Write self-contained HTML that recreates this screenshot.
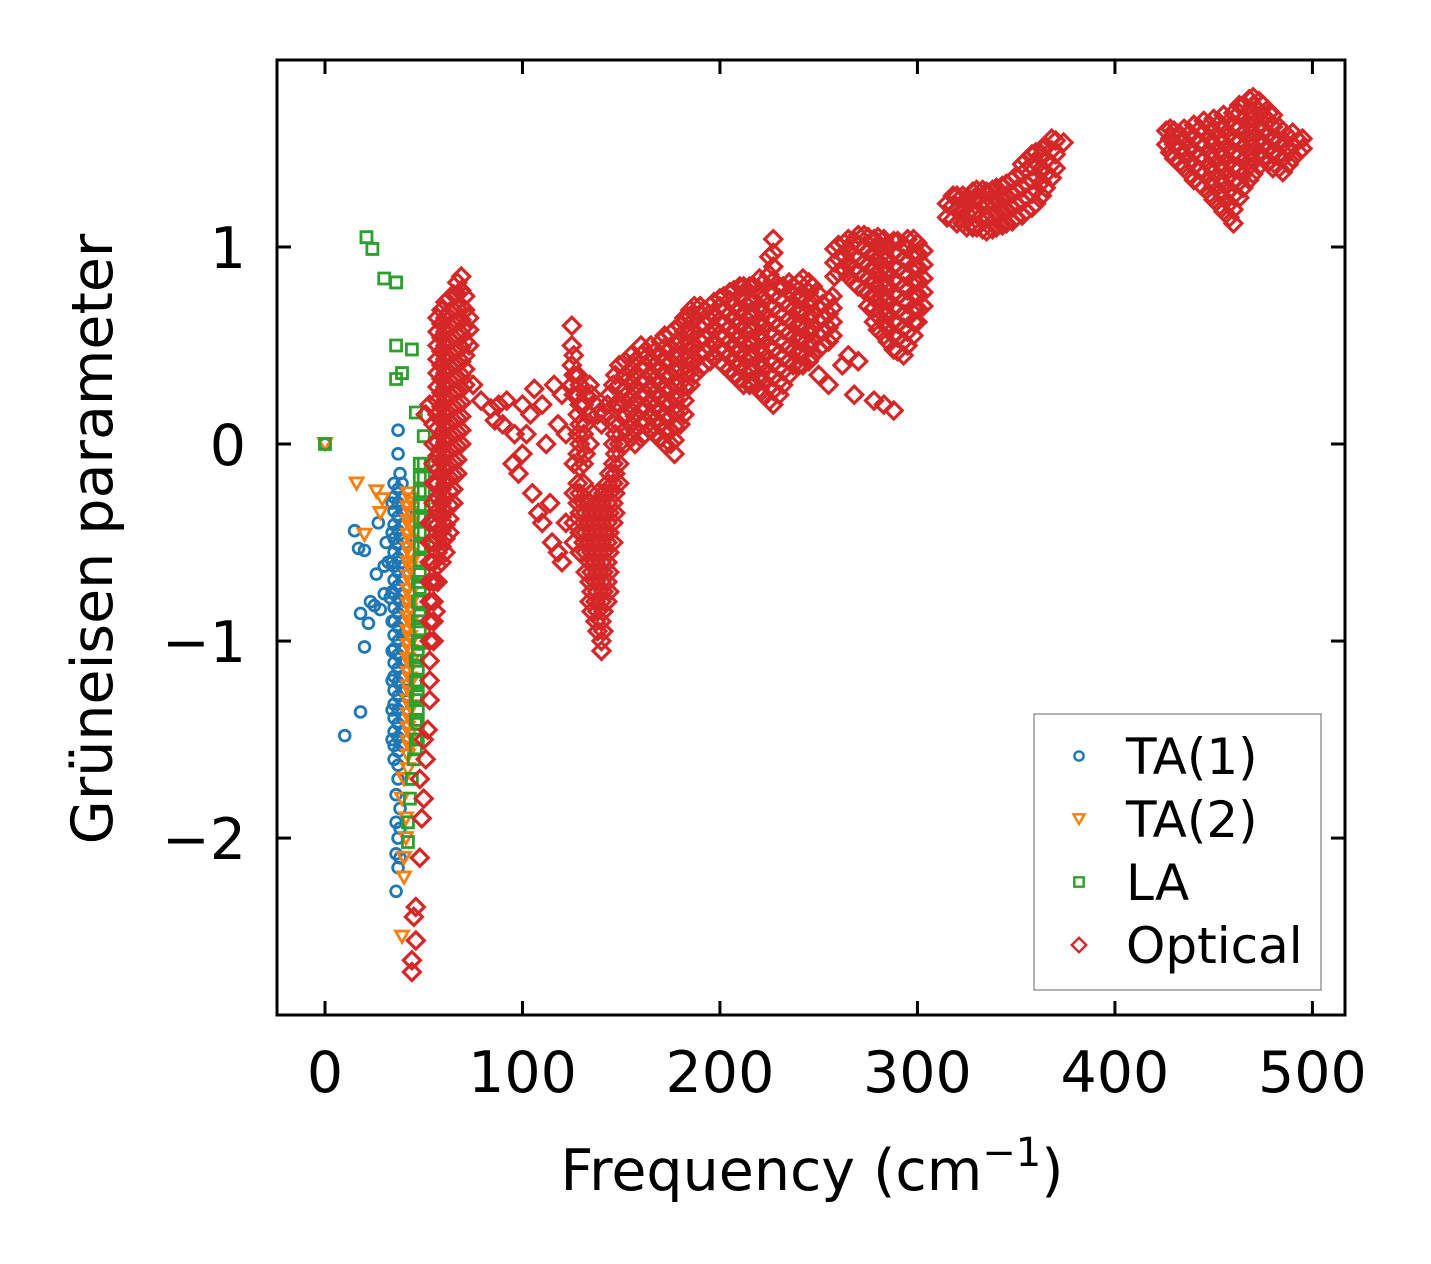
<!DOCTYPE html>
<html><head><meta charset="utf-8"><style>
html,body{margin:0;padding:0;background:#fff;}
svg{display:block;font-family:"DejaVu Sans","Liberation Sans",sans-serif;}
</style></head><body>
<svg id="chart" width="1431" height="1264" viewBox="0 0 1431 1264" xmlns="http://www.w3.org/2000/svg">
<rect x="0" y="0" width="1431" height="1264" fill="#fff"/>
<g id="marks"></g>
<g id="axes"></g>
</svg>
<script>
// ---- data ----
const xTicks = [0, 100, 200, 300, 400, 500];
const yTicks = [-2, -1, 0, 1];
const yTickLabels = ["\u22122", "\u22121", "0", "1"];
const seriesNames = ["TA(1)", "TA(2)", "LA", "Optical"];

const ta1Points = [[0,0],[10,-1.48],[15,-0.44],[17,-0.53],[18,-0.86],[18,-1.36],[20,-1.03],[20,-0.54],[22,-0.91],[23,-0.8],[25,-0.82],[26,-0.66],[27,-0.4],[28,-0.84],[30,-0.62],[30,-0.76],[32,-0.6],[33,-0.78],[31,-0.5],
[37,0.07],[37,-0.05],[38,-0.15],[37,-1.7],[36,-1.78],[38,-1.85],[36,-1.92],[37,-2.0],[36,-2.08],[37,-2.15],[36,-2.27],[38,-1.95],[38,-2.1]];
const ta1Columns = [[35,[-0.2,-0.27,-0.34,-0.41,-0.48,-0.55,-0.62,-0.69,-0.76,-0.83,-0.9,-0.97,-1.04,-1.11,-1.18,-1.25,-1.32,-1.39,-1.46,-1.53,-1.6]],
[37,[-0.23,-0.3,-0.37,-0.44,-0.51,-0.58,-0.65,-0.72,-0.79,-0.86,-0.93,-1.0,-1.07,-1.14,-1.21,-1.28,-1.35,-1.42,-1.49,-1.56,-1.63]],
[39,[-0.2,-0.27,-0.34,-0.41,-0.48,-0.55,-0.62,-0.69,-0.76,-0.83,-0.9,-0.97,-1.04,-1.11,-1.18,-1.25,-1.32,-1.39,-1.46,-1.53]],
[34,[-0.3,-0.45,-0.6,-0.75,-0.9,-1.05,-1.2,-1.35,-1.5]],
[41,[-0.35,-0.5,-0.65,-0.8,-0.95,-1.1,-1.25]]];

const ta2Points = [[0,0],[16,-0.2],[20,-0.46],[26,-0.24],[28,-0.35],[29,-0.28],[41,-2.0],[40,-2.1],[40,-2.2],[39,-2.5],[40,-1.7],[39,-1.8],[41,-1.9]];
const ta2Columns = [[42,[-0.25,-0.32,-0.39,-0.46,-0.53,-0.6,-0.67,-0.74,-0.81,-0.88,-0.95,-1.02,-1.09,-1.16,-1.23,-1.3,-1.37,-1.44,-1.51,-1.58,-1.65]],
[43,[-0.28,-0.35,-0.42,-0.49,-0.56,-0.63,-0.7,-0.77,-0.84,-0.91,-0.98,-1.05,-1.12,-1.19,-1.26,-1.33,-1.4,-1.47,-1.54]],
[44,[-0.3,-0.4,-0.5,-0.6,-0.7,-0.8,-0.9,-1.0,-1.1,-1.2]]];

const laPoints = [[0,0],[21,1.05],[24,0.99],[30,0.84],[36,0.82],[36,0.5],[44,0.48],[36,0.33],[39,0.36],[46,0.16],[50,0.04],[44,-1.7],[43,-1.8],[42,-1.92],[42,-2.02],[45,-1.6]];
const laColumns = [[48,[-0.1,-0.17,-0.24,-0.31,-0.38,-0.45,-0.52,-0.59,-0.66,-0.73,-0.8,-0.87,-0.94,-1.01]],
[50,[-0.1,-0.17,-0.24,-0.31,-0.38,-0.45,-0.52]],
[47,[-0.7,-0.8,-0.9,-1.0,-1.07,-1.14,-1.21,-1.28,-1.35,-1.42,-1.5]],
[46,[-1.1,-1.2,-1.3,-1.4,-1.5,-1.55]]];

const opticalPoints = [[51,-1.6],[50,-1.8],[49,-1.9],[48,-2.1],[46,-2.35],[45,-2.4],[46,-2.52],[44,-2.62],[44,-2.68],[50,-1.5],[52,-1.45],[48,-1.7],[55,-1.0],[51,0.15],[53,0.2],[75,0.3],[79,0.22],[56,-0.85],
[84,0.18],[86,0.12],[88,0.2],[90,0.1],[92,0.22],[95,-0.1],[96,0.05],[98,-0.15],[100,0.2],[100,-0.05],[102,0.05],[104,0.15],[105,-0.25],[106,0.28],[108,-0.35],[110,0.2],[110,-0.4],[112,0.0],[114,-0.3],[116,0.3],[115,-0.5],[118,0.1],[118,-0.55],[120,-0.6],[120,0.25],[122,-0.4],[122,0.05],
[262,0.4],[265,0.45],[270,0.42],[268,0.25],[278,0.22],[283,0.2],[288,0.17],[255,0.3],[250,0.35]];
const opticalColumns = [
[53,[-1.3,-1.2,-1.1,-1.0,-0.9,-0.8,-0.7,-0.6,-0.5,-0.4]],
[55,[-0.9,-0.8,-0.7,-0.6,-0.5,-0.4,-0.3,-0.2,-0.1,0,0.1]],
[57,[-0.7,-0.62,-0.55,-0.48,-0.41,-0.34,-0.27,-0.2,-0.13,-0.06,0.01,0.08,0.15,0.22,0.29,0.36,0.43,0.5,0.57,0.64]],
[59,[-0.6,-0.52,-0.44,-0.37,-0.3,-0.23,-0.16,-0.09,-0.02,0.05,0.12,0.19,0.26,0.33,0.4,0.47,0.54,0.61,0.68]],
[61,[-0.55,-0.48,-0.41,-0.34,-0.27,-0.2,-0.13,-0.06,0.01,0.08,0.15,0.22,0.29,0.36,0.43,0.5,0.57,0.64,0.72]],
[63,[-0.45,-0.38,-0.31,-0.24,-0.17,-0.1,-0.03,0.04,0.11,0.18,0.25,0.32,0.39,0.46,0.53,0.6,0.67,0.74]],
[65,[-0.3,-0.23,-0.16,-0.09,-0.02,0.05,0.12,0.19,0.26,0.33,0.4,0.47,0.54,0.61,0.68,0.76]],
[67,[-0.15,-0.08,-0.01,0.06,0.13,0.2,0.27,0.34,0.41,0.48,0.55,0.62,0.69,0.76,0.82]],
[69,[0.0,0.07,0.14,0.21,0.28,0.35,0.42,0.49,0.56,0.63,0.7,0.78,0.85]],
[71,[0.3,0.38,0.45,0.52,0.6,0.68,0.75]],
[73,[0.5,0.58,0.64]],
[125,[0.6,0.5,0.4,0.3]],
[126,[0.45,0.35,0.25,-0.1,-0.25,-0.4,-0.5]],
[128,[0.35,0.25,0.15,0.05,-0.05,-0.2,-0.3]],
[129,[0.3,0.2,0.1,0,-0.12,-0.25,-0.35,-0.45,-0.55]],
[131,[0.2,0.05,-0.1,-0.2,-0.3,-0.4,-0.5]],
[132,[0.25,0.1,-0.05,-0.35,-0.45,-0.55,-0.65]],
[134,[0.3,0.15,0,-0.3,-0.4,-0.5,-0.6,-0.7,-0.8]],
[135,[0.25,-0.25,-0.35,-0.45,-0.55,-0.65,-0.75,-0.85]],
[137,[0.2,-0.3,-0.4,-0.5,-0.6,-0.7,-0.8,-0.9]],
[138,[0.15,-0.25,-0.35,-0.45,-0.55,-0.65,-0.75,-0.85,-0.95]],
[140,[0.1,-0.3,-0.4,-0.5,-0.6,-0.7,-0.8,-0.9,-1.0,-1.05]],
[141,[0.15,-0.25,-0.35,-0.45,-0.55,-0.65,-0.75,-0.85,-0.95]],
[143,[0.2,-0.2,-0.3,-0.4,-0.5,-0.6,-0.7,-0.8]],
[144,[0.25,-0.15,-0.25,-0.35,-0.45,-0.55,-0.65,-0.75]],
[146,[0.3,0.1,0,-0.1,-0.2,-0.3,-0.4,-0.5]],
[147,[0.35,0.2,0.05,-0.05,-0.15,-0.25,-0.35]],
[149,[0.4,0.3,0.2,0.1,0,-0.1,-0.2]],
[152,[0,0.07,0.14,0.21,0.28,0.35,0.42]],
[155,[0.03,0.1,0.17,0.24,0.31,0.38,0.45]],
[157,[0,0.07,0.14,0.21,0.28,0.35,0.42]],
[160,[0.03,0.1,0.17,0.24,0.31,0.38,0.45,0.5]],
[162,[0.05,0.12,0.19,0.26,0.33,0.4,0.47]],
[165,[0.08,0.15,0.22,0.29,0.36,0.43,0.5]],
[167,[0.05,0.12,0.19,0.26,0.33,0.4,0.47]],
[170,[0.03,0.1,0.17,0.24,0.31,0.38,0.45,0.52]],
[172,[0,0.07,0.14,0.21,0.28,0.35,0.42,0.49,0.55]],
[175,[0.0,0.07,0.14,0.21,0.28,0.35,0.42,0.49,0.56]],
[177,[-0.05,0.02,0.09,0.16,0.23,0.3,0.37,0.44,0.51,0.58]],
[180,[0.1,0.17,0.24,0.31,0.38,0.45,0.52,0.6]],
[182,[0.15,0.22,0.29,0.36,0.43,0.5,0.57,0.64]],
[185,[0.3,0.37,0.44,0.51,0.58,0.65,0.68]],
[187,[0.35,0.42,0.49,0.56,0.63,0.7]],
[190,[0.38,0.45,0.52,0.59,0.66,0.7]],
[192,[0.4,0.47,0.54,0.61,0.68]],
[195,[0.42,0.49,0.56,0.63,0.7]],
[197,[0.45,0.52,0.59,0.66,0.72]],
[200,[0.42,0.49,0.56,0.63,0.7,0.74]],
[202,[0.4,0.47,0.54,0.61,0.68,0.75]],
[205,[0.38,0.45,0.52,0.59,0.66,0.73,0.77]],
[207,[0.35,0.42,0.49,0.56,0.63,0.7,0.78]],
[210,[0.33,0.4,0.47,0.54,0.61,0.68,0.75,0.8]],
[212,[0.3,0.37,0.44,0.51,0.58,0.65,0.72,0.8]],
[215,[0.3,0.37,0.44,0.51,0.58,0.65,0.72,0.8]],
[217,[0.3,0.37,0.44,0.51,0.58,0.65,0.72,0.8]],
[220,[0.28,0.35,0.42,0.49,0.56,0.63,0.7,0.78,0.84]],
[222,[0.25,0.32,0.39,0.46,0.53,0.6,0.67,0.74,0.82]],
[225,[0.22,0.29,0.36,0.43,0.5,0.57,0.64,0.71,0.78,0.86,0.95]],
[227,[0.2,0.27,0.34,0.41,0.48,0.55,0.62,0.69,0.76,0.83,0.9,0.97,1.04]],
[230,[0.25,0.32,0.39,0.46,0.53,0.6,0.67,0.74,0.8]],
[232,[0.3,0.37,0.44,0.51,0.58,0.65,0.72,0.8]],
[235,[0.35,0.42,0.49,0.56,0.63,0.7,0.77,0.82]],
[237,[0.4,0.47,0.54,0.61,0.68,0.75,0.8]],
[240,[0.4,0.47,0.54,0.61,0.68,0.75,0.82]],
[242,[0.4,0.47,0.54,0.61,0.68,0.75,0.84]],
[245,[0.42,0.49,0.56,0.63,0.7,0.77,0.82]],
[247,[0.45,0.52,0.59,0.66,0.73,0.8]],
[250,[0.48,0.55,0.62,0.69,0.76]],
[252,[0.5,0.57,0.64,0.71]],
[255,[0.52,0.59,0.66,0.73]],
[257,[0.55,0.62,0.69,0.75]],
[258,[0.85,0.92,0.99]],
[260,[0.87,0.94,1.01]],
[263,[0.88,0.95,1.02]],
[265,[0.85,0.92,0.99,1.04]],
[268,[0.82,0.89,0.96,1.03]],
[270,[0.8,0.87,0.94,1.01,1.06]],
[273,[0.78,0.85,0.92,0.99,1.06]],
[275,[0.7,0.77,0.84,0.91,0.98,1.05]],
[278,[0.62,0.69,0.76,0.83,0.9,0.97,1.04]],
[280,[0.58,0.65,0.72,0.79,0.86,0.93,1.0,1.05]],
[283,[0.55,0.62,0.69,0.76,0.83,0.9,0.97,1.04]],
[285,[0.52,0.59,0.66,0.73,0.8,0.87,0.94,1.01]],
[288,[0.48,0.55,0.62,0.69,0.76,0.83,0.9,0.97,1.03]],
[290,[0.47,0.54,0.61,0.68,0.75,0.82,0.89,0.96,1.03]],
[293,[0.45,0.52,0.59,0.66,0.73,0.8,0.87,0.94,1.01]],
[295,[0.5,0.57,0.64,0.71,0.78,0.85,0.92,0.99,1.04]],
[298,[0.55,0.62,0.69,0.76,0.83,0.9,0.97,1.04]],
[300,[0.62,0.69,0.76,0.83,0.9,0.97,1.02]],
[303,[0.7,0.77,0.84,0.91,0.98]],
[315,[1.15,1.22]],
[318,[1.14,1.21,1.26]],
[320,[1.12,1.19,1.26]],
[323,[1.12,1.19,1.26]],
[325,[1.1,1.17,1.24]],
[328,[1.1,1.17,1.24,1.28]],
[330,[1.1,1.17,1.24,1.29]],
[333,[1.09,1.16,1.23,1.29]],
[335,[1.08,1.15,1.22,1.28]],
[338,[1.09,1.16,1.23,1.29]],
[340,[1.1,1.17,1.24,1.3]],
[343,[1.11,1.18,1.25,1.31]],
[345,[1.12,1.19,1.26,1.32]],
[348,[1.13,1.2,1.27,1.34]],
[350,[1.15,1.22,1.29,1.36]],
[353,[1.16,1.23,1.3,1.37,1.42]],
[355,[1.18,1.25,1.32,1.39,1.44]],
[358,[1.2,1.27,1.34,1.41,1.47]],
[360,[1.22,1.29,1.36,1.43,1.48]],
[363,[1.26,1.33,1.4,1.47,1.5]],
[365,[1.3,1.37,1.44,1.51]],
[368,[1.35,1.42,1.49,1.55]],
[370,[1.4,1.47,1.54]],
[374,[1.53]],
[426,[1.52,1.59]],
[428,[1.48,1.55,1.6]],
[430,[1.45,1.52,1.59]],
[433,[1.43,1.5,1.57]],
[435,[1.4,1.47,1.54,1.6]],
[438,[1.37,1.44,1.51,1.58]],
[440,[1.34,1.41,1.48,1.55,1.62]],
[443,[1.32,1.39,1.46,1.53,1.6]],
[445,[1.3,1.37,1.44,1.51,1.58,1.64]],
[448,[1.27,1.34,1.41,1.48,1.55,1.62]],
[450,[1.24,1.31,1.38,1.45,1.52,1.59,1.65]],
[453,[1.21,1.28,1.35,1.42,1.49,1.56,1.63]],
[455,[1.18,1.25,1.32,1.39,1.46,1.53,1.6,1.67]],
[458,[1.15,1.22,1.29,1.36,1.43,1.5,1.57,1.64]],
[460,[1.12,1.19,1.26,1.33,1.4,1.47,1.54,1.61,1.68]],
[463,[1.25,1.33,1.4,1.47,1.54,1.61,1.68,1.72]],
[465,[1.3,1.37,1.44,1.51,1.58,1.65,1.72]],
[468,[1.34,1.41,1.48,1.55,1.62,1.69,1.75]],
[470,[1.37,1.44,1.51,1.58,1.65,1.72,1.76]],
[473,[1.41,1.48,1.55,1.62,1.69,1.74]],
[475,[1.45,1.52,1.59,1.66,1.72]],
[478,[1.43,1.5,1.57,1.64,1.68]],
[480,[1.4,1.47,1.54,1.61,1.67]],
[483,[1.4,1.47,1.54,1.61]],
[485,[1.38,1.45,1.52,1.59]],
[488,[1.42,1.49,1.56]],
[490,[1.45,1.52,1.58]],
[493,[1.48,1.54]],
[495,[1.5,1.55]]
];

// ---- layout ----
const PL = 277, PR = 1345, PT = 60, PB = 1015;
const X0 = -24.3, X1 = 516.5, Y0 = -2.898, Y1 = 1.949;
const xs = v => PL + (v - X0) / (X1 - X0) * (PR - PL);
const ys = v => PB - (v - Y0) / (Y1 - Y0) * (PB - PT);
const NS = "http://www.w3.org/2000/svg";
const colors = ["#1f77b4", "#ff7f0e", "#2ca02c", "#d62728"];
const marks = document.getElementById("marks");
const axes = document.getElementById("axes");

function shapeEl(kind, cx, cy, color, s, sw) {
  let el;
  if (kind === 0) {
    el = document.createElementNS(NS, "circle");
    el.setAttribute("cx", cx); el.setAttribute("cy", cy); el.setAttribute("r", 5.4 * s);
  } else {
    el = document.createElementNS(NS, "path");
    let d;
    if (kind === 1) { const h = 6.5 * s; d = `M${cx - h},${cy - h * 0.85}L${cx + h},${cy - h * 0.85}L${cx},${cy + h * 0.9}Z`; }
    else if (kind === 2) { const h = 5.5 * s; d = `M${cx - h},${cy - h}H${cx + h}V${cy + h}H${cx - h}Z`; }
    else { const h = 8.5 * s; d = `M${cx},${cy - h}L${cx + h},${cy}L${cx},${cy + h}L${cx - h},${cy}Z`; }
    el.setAttribute("d", d);
  }
  el.setAttribute("fill", "none");
  el.setAttribute("stroke", color);
  el.setAttribute("stroke-width", sw);
  return el;
}

function drawSeries(kind, points, columns, name) {
  const g = document.createElementNS(NS, "g");
  
  
  const all = points.slice();
  columns.forEach(c => c[1].forEach(v => all.push([c[0], v])));
  all.forEach(p => {
    const el = shapeEl(kind, xs(p[0]), ys(p[1]), colors[kind], 1, kind === 3 ? 3.2 : 2.8);
    
    
    g.appendChild(el);
  });
  marks.appendChild(g);
}
drawSeries(0, ta1Points, ta1Columns, "ta1");
drawSeries(1, ta2Points, ta2Columns, "ta2");
drawSeries(2, laPoints, laColumns, "la");
drawSeries(3, opticalPoints, opticalColumns, "optical");

function line(x1, y1, x2, y2, w, name) {
  const l = document.createElementNS(NS, "line");
  l.setAttribute("x1", x1); l.setAttribute("y1", y1); l.setAttribute("x2", x2); l.setAttribute("y2", y2);
  l.setAttribute("stroke", "#000"); l.setAttribute("stroke-width", w);
  
  
  axes.appendChild(l);
}
function text(x, y, str, anchor, size, name) {
  const t = document.createElementNS(NS, "text");
  t.setAttribute("x", x); t.setAttribute("y", y); t.setAttribute("text-anchor", anchor);
  t.setAttribute("font-size", size); t.setAttribute("fill", "#000");
  t.textContent = str;
  
  
  axes.appendChild(t);
  return t;
}
const fr = document.createElementNS(NS, "rect");
fr.setAttribute("x", PL); fr.setAttribute("y", PT); fr.setAttribute("width", PR - PL); fr.setAttribute("height", PB - PT);
fr.setAttribute("fill", "none"); fr.setAttribute("stroke", "#000"); fr.setAttribute("stroke-width", 3);


axes.appendChild(fr);
xTicks.forEach(v => {
  const x = xs(v);
  line(x, PB, x, PB - 14, 3, "x-tick");
  line(x, PT, x, PT + 14, 3, "x-tick-top");
  text(x, 1092, String(v), "middle", 57, "x-tick-label");
});
yTicks.forEach((v, i) => {
  const y = ys(v);
  line(PL, y, PL + 14, y, 3, "y-tick");
  line(PR, y, PR - 14, y, 3, "y-tick-right");
  text(246, y + 21, yTickLabels[i], "end", 57, "y-tick-label");
});
const xt = text(812, 1190, "Frequency (cm", "middle", 57, "x-axis-title");
const sup = document.createElementNS(NS, "tspan");
sup.setAttribute("font-size", 40); sup.setAttribute("dy", -24); sup.textContent = "\u22121";


xt.appendChild(sup);
const cl = document.createElementNS(NS, "tspan");
cl.setAttribute("dy", 24); cl.textContent = ")";
xt.appendChild(cl);
const yt = text(0, 0, "Grüneisen parameter", "middle", 57, "y-axis-title");
yt.setAttribute("transform", "translate(112,539) rotate(-90)");

const lg = document.createElementNS(NS, "g");


const lb = document.createElementNS(NS, "rect");
lb.setAttribute("x", 1034); lb.setAttribute("y", 714); lb.setAttribute("width", 287); lb.setAttribute("height", 276);
lb.setAttribute("fill", "#fff"); lb.setAttribute("stroke", "#999"); lb.setAttribute("stroke-width", 1.5);


lg.appendChild(lb);
seriesNames.forEach((n, i) => {
  const cy = 756 + i * 63;
  const m = shapeEl(i, 1079, cy, colors[i], 0.85, 2.4);
  
  
  lg.appendChild(m);
  const t = document.createElementNS(NS, "text");
  t.setAttribute("x", 1126); t.setAttribute("y", cy + 18); t.setAttribute("font-size", 50);
  t.textContent = n;
  
  
  lg.appendChild(t);
});
axes.appendChild(lg);
</script>
</body></html>
